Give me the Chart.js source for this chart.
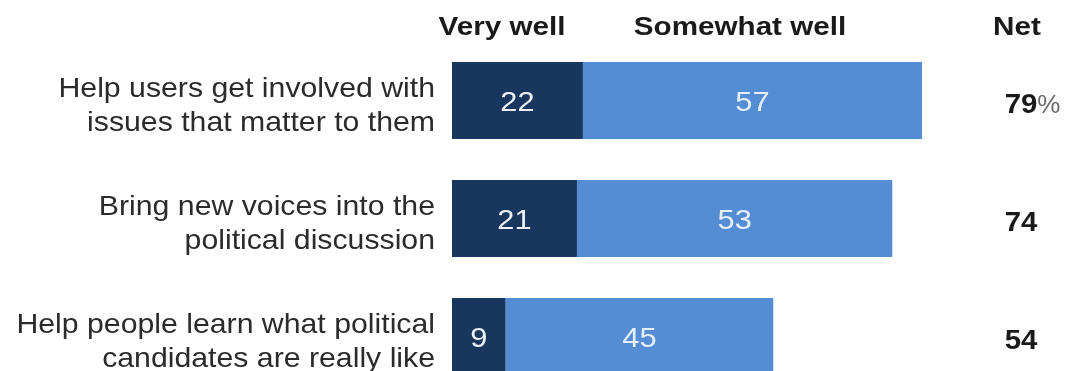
<!DOCTYPE html>
<html>
<head>
<meta charset="utf-8">
<script src="https://cdn.jsdelivr.net/npm/chart.js@4"></script>
<style>
    html, body { margin: 0; padding: 0; background: #fff; overflow: hidden; }
    #wrap { position: relative; width: 1065px; height: 400px; }
</style>
</head>
<body>
<div id="wrap"><canvas id="chart"></canvas></div>
<script>
const categories = [
    ['Help users get involved with', 'issues that matter to them'],
    ['Bring new voices into the', 'political discussion'],
    ['Help people learn what political', 'candidates are really like']
];
const veryWell = [22, 21, 9];
const somewhatWell = [57, 53, 45];
const netValues = [79, 74, 54];
const headers = ['Very well', 'Somewhat well', 'Net'];

const FONT = "'Liberation Sans', Arial, sans-serif";

// draw text stretched a little sideways, like the reference
function wideText(ctx, text, x, y, sx) {
    ctx.save();
    ctx.translate(x, y);
    ctx.scale(sx, 1);
    ctx.fillText(text, 0, 0);
    ctx.restore();
}

// category labels, right aligned against the bars
const categoryLabels = {
    id: 'categoryLabels',
    afterDraw(chart) {
        const ctx = chart.ctx;
        const yScale = chart.scales.y;
        ctx.save();
        ctx.font = '28px ' + FONT;
        ctx.fillStyle = '#2b2b2b';
        ctx.textAlign = 'right';
        ctx.textBaseline = 'alphabetic';
        categories.forEach((lines, j) => {
            const y = yScale.getPixelForValue(j);
            lines.forEach((line, k) => {
                wideText(ctx, line, chart.chartArea.left - 17, y - 4 + k * 34, 1.08);
            });
        });
        ctx.restore();
    }
};

// numbers inside the bar segments
const segmentLabels = {
    id: 'segmentLabels',
    afterDatasetsDraw(chart) {
        const ctx = chart.ctx;
        ctx.save();
        ctx.font = '28px ' + FONT;
        ctx.textAlign = 'center';
        ctx.textBaseline = 'middle';
        chart.data.datasets.forEach((ds, i) => {
            chart.getDatasetMeta(i).data.forEach((bar, j) => {
                const mid = (bar.x + bar.base) / 2;
                ctx.fillStyle = i === 0 ? '#eef2f8' : '#e6eef9';
                wideText(ctx, String(ds.data[j]), mid, bar.y + 3, 1.1);
            });
        });
        ctx.restore();
    }
};

// column headers and the net column
const headerAndNet = {
    id: 'headerAndNet',
    afterDraw(chart) {
        const ctx = chart.ctx;
        const area = chart.chartArea;
        ctx.save();
        ctx.fillStyle = '#1a1a1a';
        ctx.font = 'bold 26px ' + FONT;
        ctx.textAlign = 'center';
        ctx.textBaseline = 'alphabetic';
        wideText(ctx, headers[0], area.left + 50, 35, 1.14);
        wideText(ctx, headers[1], area.left + 288, 35, 1.14);
        wideText(ctx, headers[2], 1017, 35, 1.14);

        const meta = chart.getDatasetMeta(1);
        ctx.textBaseline = 'middle';
        netValues.forEach((v, j) => {
            const y = meta.data[j].y + 5;
            ctx.font = 'bold 28px ' + FONT;
            ctx.fillStyle = '#1a1a1a';
            ctx.textAlign = 'center';
            wideText(ctx, String(v), 1021, y, 1.05);
            if (j === 0) {
                const w = ctx.measureText(String(v)).width * 1.05;
                ctx.font = '26px ' + FONT;
                ctx.fillStyle = '#6a6a6a';
                ctx.textAlign = 'left';
                wideText(ctx, '%', 1021 + w / 2, y, 1.0);
            }
        });
        ctx.restore();
    }
};

new Chart(document.getElementById('chart'), {
    type: 'bar',
    data: {
        labels: categories.map(c => c.join(' ')),
        datasets: [
            { label: 'Very well', data: veryWell, backgroundColor: '#19365f' },
            { label: 'Somewhat well', data: somewhatWell, backgroundColor: '#548dd4' }
        ]
    },
    options: {
        indexAxis: 'y',
        responsive: true,
        maintainAspectRatio: false,
        animation: false,
        layout: { padding: { top: 41.5, bottom: 4.5, right: 18, left: 452 } },
        datasets: { bar: { categoryPercentage: 1, barPercentage: 0.653, borderWidth: 0 } },
        plugins: {
            legend: { display: false },
            tooltip: { enabled: false }
        },
        scales: {
            x: {
                stacked: true,
                min: 0,
                max: 100,
                display: false
            },
            y: {
                stacked: true,
                display: false
            }
        }
    },
    plugins: [segmentLabels, categoryLabels, headerAndNet]
});
</script>
</body>
</html>
